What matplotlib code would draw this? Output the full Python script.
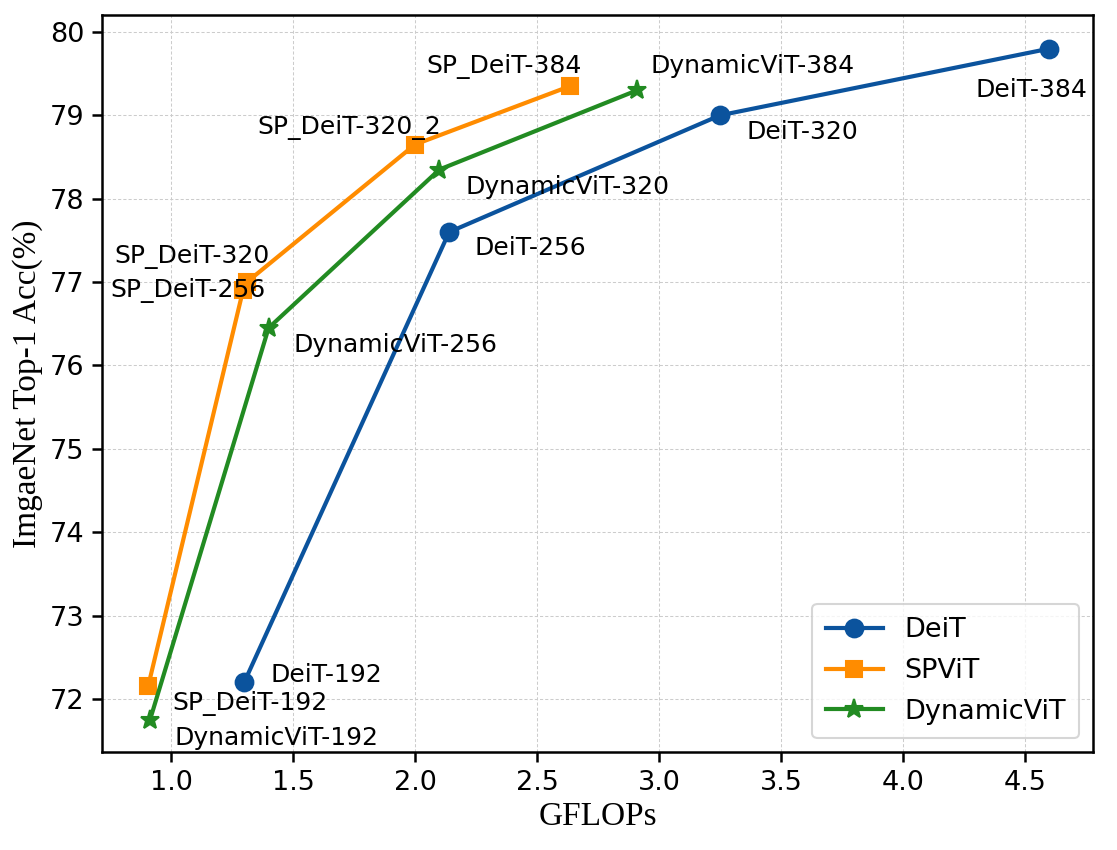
import matplotlib
matplotlib.use("Agg")
import matplotlib.pyplot as plt

# GFLOPs / top-1 accuracy
deit_flops = [1.30, 2.14, 3.25, 4.60]
deit_acc = [72.2, 77.6, 79.0, 79.8]
deit_names = ["DeiT-192", "DeiT-256", "DeiT-320", "DeiT-384"]

spvit_flops = [0.906, 1.295, 1.311, 2.0, 2.635]
spvit_acc = [72.15, 76.9, 77.0, 78.65, 79.35]
spvit_names = ["SP_DeiT-192", "SP_DeiT-256", "SP_DeiT-320", "SP_DeiT-320_2", "SP_DeiT-384"]

dyn_flops = [0.914, 1.40, 2.10, 2.91]
dyn_acc = [71.75, 76.45, 78.35, 79.3]
dyn_names = ["DynamicViT-192", "DynamicViT-256", "DynamicViT-320", "DynamicViT-384"]

# label anchor positions (data coords, left/center aligned)
deit_lbl = [(1.406, 72.29), (2.242, 77.41), (3.357, 78.80), (4.299, 79.30)]
spvit_lbl = [(1.004, 71.95), (0.75, 76.90), (0.766, 77.31), (1.352, 78.85), (2.045, 79.58)]
dyn_lbl = [(1.016, 71.53), (1.504, 76.24), (2.205, 78.14), (2.967, 79.59)]

c_deit = "#0b539d"
c_sp = "#ff8c00"
c_dyn = "#228b22"

fig = plt.figure(figsize=(1117 / 150, 850 / 150), dpi=150)
ax = fig.add_axes([0.0913, 0.1153, 0.8872, 0.8671])

ax.plot(deit_flops, deit_acc, color=c_deit, marker="o", lw=2, ms=8.5, label="DeiT")
ax.plot(spvit_flops, spvit_acc, color=c_sp, marker="s", lw=2, ms=8, label="SPViT")
ax.plot(dyn_flops, dyn_acc, color=c_dyn, marker="*", lw=2, ms=9.5, label="DynamicViT")

for names, pos in [(deit_names, deit_lbl), (spvit_names, spvit_lbl), (dyn_names, dyn_lbl)]:
    for name, (x, y) in zip(names, pos):
        ax.text(x, y, name, ha="left", va="center", fontsize=12)

ax.set_xlim(0.717, 4.779)
ax.set_ylim(71.364, 80.204)
ax.set_xticks([1.0, 1.5, 2.0, 2.5, 3.0, 3.5, 4.0, 4.5])
ax.set_yticks(range(72, 81))
ax.tick_params(labelsize=13, width=1.2, length=5)
for s in ax.spines.values():
    s.set_linewidth(1.2)
ax.grid(True, color="#cccccc", linestyle=(0, (3, 2)), linewidth=0.5)

ax.set_xlabel("GFLOPs", family="Liberation Serif", fontsize=16, labelpad=3)
ax.set_ylabel("ImgaeNet Top-1 Acc(%)", family="Liberation Serif", fontsize=16, labelpad=3)

ax.legend(loc="lower right", fontsize=13, borderpad=0.5, handlelength=2.1,
          labelspacing=0.55)

fig.savefig("out.png", dpi=150)
